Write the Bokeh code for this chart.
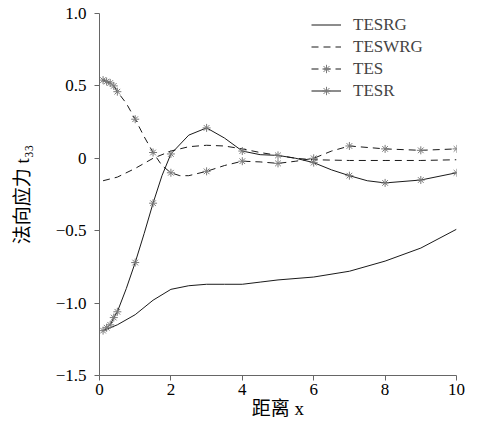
from bokeh.plotting import figure
from bokeh.models import Range1d, FixedTicker, Legend, LegendItem
from bokeh.embed import file_html
from bokeh.resources import INLINE

# ---- data ----
tesrg_x = [0.1, 0.5, 1, 1.5, 2, 2.5, 3, 3.5, 4, 4.5, 5, 6, 7, 8, 9, 10]
tesrg_y = [-1.19, -1.15, -1.08, -0.98, -0.905, -0.88, -0.87, -0.87, -0.87, -0.855, -0.84, -0.82, -0.78, -0.71, -0.62, -0.49]

teswrg_x = [0.1, 0.5, 1, 1.5, 2, 2.5, 3, 3.5, 4, 4.5, 5, 5.5, 6, 7, 8, 9, 10]
teswrg_y = [-0.155, -0.13, -0.07, 0.0, 0.05, 0.08, 0.09, 0.085, 0.065, 0.04, 0.02, 0.0, -0.01, -0.015, -0.015, -0.015, -0.01]

tes_x = [0.1, 0.2, 0.3, 0.4, 0.5, 0.75, 1, 1.25, 1.5, 1.75, 2, 2.25, 2.5, 3, 3.5, 4, 4.5, 5, 5.5, 6, 6.5, 7, 8, 9, 10]
tes_y = [0.54, 0.53, 0.52, 0.50, 0.46, 0.38, 0.27, 0.15, 0.04, -0.05, -0.10, -0.12, -0.12, -0.09, -0.05, -0.02, -0.025, -0.035, -0.02, 0.0, 0.05, 0.085, 0.065, 0.055, 0.065]
tes_mark_x = [0.1, 0.2, 0.3, 0.4, 0.5, 1, 1.5, 2, 3, 4, 5, 6, 7, 8, 9, 10]

tesr_x = [0.1, 0.2, 0.3, 0.4, 0.5, 0.75, 1, 1.25, 1.5, 1.75, 2, 2.5, 3, 3.5, 4, 4.5, 5, 5.5, 6, 6.5, 7, 7.5, 8, 9, 10]
tesr_y = [-1.19, -1.17, -1.15, -1.10, -1.06, -0.90, -0.72, -0.52, -0.31, -0.12, 0.03, 0.16, 0.21, 0.14, 0.05, 0.025, 0.02, 0.0, -0.03, -0.08, -0.12, -0.155, -0.17, -0.15, -0.10]
tesr_mark_x = [0.1, 0.2, 0.3, 0.4, 0.5, 1, 1.5, 2, 3, 4, 5, 6, 7, 8, 9, 10]

x_ticks = [0, 2, 4, 6, 8, 10]
y_ticks = [-1.5, -1.0, -0.5, 0, 0.5, 1.0]
y_tick_labels = ["\u22121.5", "\u22121.0", "\u22120.5", "0", "0.5", "1.0"]

series_names = ["TESRG", "TESWRG", "TES", "TESR"]
x_title = "距离 x"
y_title = "法向应力 t\u2083\u2083"

SERIF = "'Liberation Serif', 'Times New Roman', serif"
MIXED = "'Liberation Serif', 'Noto Sans CJK SC', serif"
LINE = "#1a1a1a"
MARK = "#7a7a7a"

W, H = 470, 427
p = figure(width=W, height=H, output_backend="svg", toolbar_location=None,
           x_range=Range1d(0, 10), y_range=Range1d(-1.5, 1.0),
           min_border_left=99, min_border_right=W - 456, min_border_top=13, min_border_bottom=H - 375)
p.outline_line_color = None
p.xgrid.visible = False
p.ygrid.visible = False
p.background_fill_color = "white"

for ax in (p.xaxis[0], p.yaxis[0]):
    ax.axis_line_color = "#666666"
    ax.major_tick_line_color = "#666666"
    ax.major_tick_out = 5
    ax.major_tick_in = 0
    ax.minor_tick_line_color = None
    ax.major_label_text_font = SERIF
    ax.major_label_text_font_size = "17px"
    ax.major_label_text_color = "black"
    ax.axis_label_text_font = MIXED
    ax.axis_label_text_font_size = "19px"
    ax.axis_label_text_font_style = "normal"
    ax.axis_label_text_color = "black"

p.xaxis.axis_label = x_title
p.yaxis.axis_label = y_title
p.xaxis.axis_label_standoff = 0
p.yaxis.axis_label_standoff = 20

p.xaxis.ticker = FixedTicker(ticks=x_ticks)
p.yaxis.ticker = FixedTicker(ticks=y_ticks)
p.yaxis.major_label_overrides = {t: l for t, l in zip(y_ticks, y_tick_labels)}
p.xaxis.major_label_standoff = 3
p.yaxis.major_label_standoff = 8

r1 = p.line(tesrg_x, tesrg_y, line_color=LINE, line_width=1)
r2 = p.line(teswrg_x, teswrg_y, line_color=LINE, line_width=1, line_dash="7 5")
r3 = p.line(tes_x, tes_y, line_color=LINE, line_width=1, line_dash="7 5")
tes_my = [tes_y[tes_x.index(v)] for v in tes_mark_x]
m3 = p.scatter(tes_mark_x, tes_my, marker="asterisk", size=8, line_color=MARK, line_width=1)
r4 = p.line(tesr_x, tesr_y, line_color=LINE, line_width=1)
tesr_my = [tesr_y[tesr_x.index(v)] for v in tesr_mark_x]
m4 = p.scatter(tesr_mark_x, tesr_my, marker="asterisk", size=8, line_color=MARK, line_width=1)

legend = Legend(items=[
    LegendItem(label=series_names[0], renderers=[r1]),
    LegendItem(label=series_names[1], renderers=[r2]),
    LegendItem(label=series_names[2], renderers=[r3, m3]),
    LegendItem(label=series_names[3], renderers=[r4, m4]),
], location=(212, 274))
legend.border_line_color = None
legend.background_fill_alpha = 0
legend.padding = 0
legend.margin = 0
legend.spacing = 1
legend.glyph_width = 30
legend.glyph_height = 21
legend.label_height = 21
legend.label_standoff = 12
legend.label_text_font = SERIF
legend.label_text_font_size = "17px"
p.add_layout(legend)

open("out.html", "w").write(file_html(p, INLINE))
